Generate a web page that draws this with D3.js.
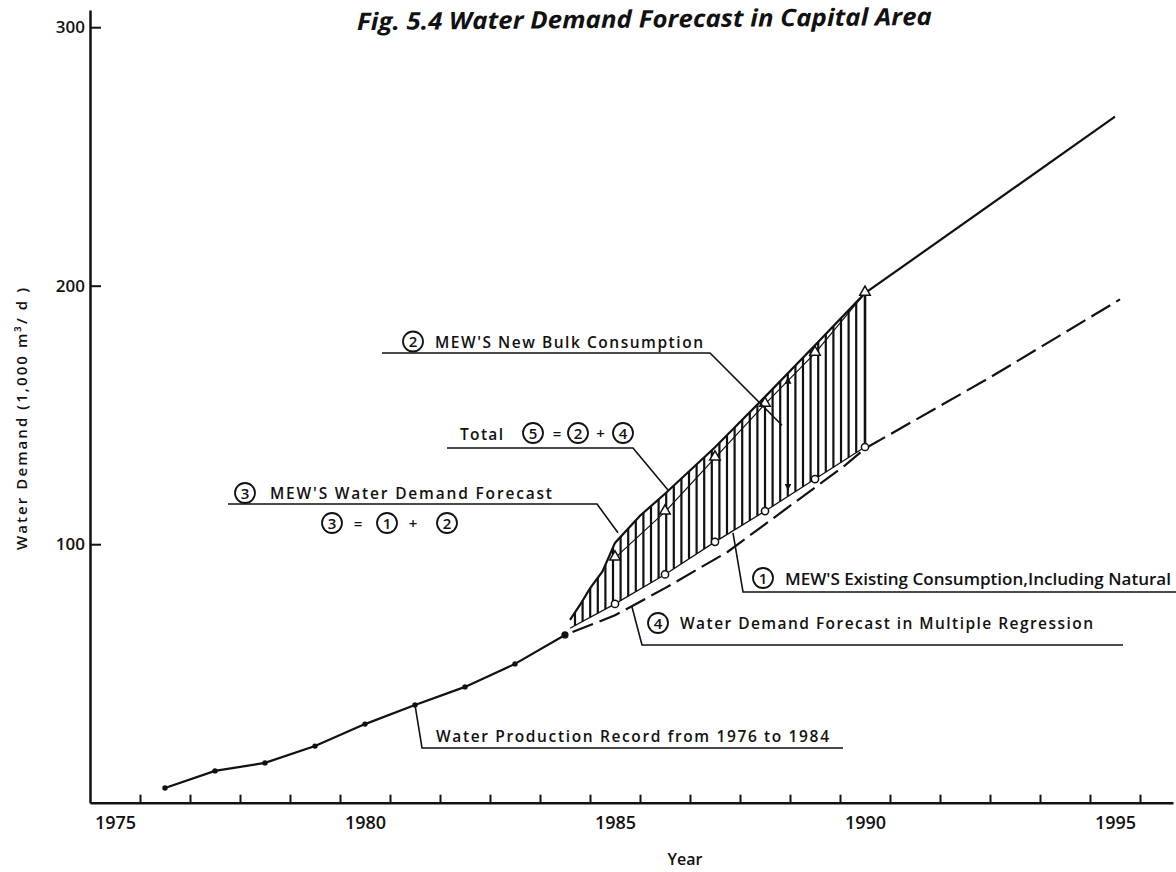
<!DOCTYPE html>
<html><head><meta charset="utf-8">
<script src="https://cdn.jsdelivr.net/npm/d3@7"></script>
<style>
body{margin:0;background:#fff}
svg{display:block}
text{font-family:"Open Sans","DejaVu Sans",sans-serif;fill:#111}
</style>
</head><body>
<svg id="chart" width="1176" height="872"></svg>
<script>
// ---------------- data ----------------
const productionYears  = [1976,1977,1978,1979,1980,1981,1982,1983,1984];
const productionValues = [5.7,12.3,15.4,21.9,30.4,37.8,44.8,53.7,64.9];

const forecastYears    = [1985,1986,1987,1988,1989,1990];
const existingValues   = [76.9,88.3,100.9,112.8,125.2,137.6];   // (1) circles
const mewForecastValues= [94.7,112.5,133.4,154.2,173.9,197.1];  // (3) triangles

const existingLineYears  = [1984.1,1985,1986,1987,1988,1989,1990];
const existingLineValues = [67.5,76.9,88.3,100.9,112.8,125.2,137.6];

const totalYears  = [1984.1,1984.3,1984.5,1984.75,1985,1985.5,1986,1987,1988,1989,1990,1995];
const totalValues = [70.7,76.5,82.9,89.5,100.5,111,119.5,137.5,157,177,197.1,265.4];

const regressionYears  = [1984.15,1985,1986,1987.25,1989.6,1990,1992.5,1995.1];
const regressionValues = [66,72.5,83,97,130.5,137,164.5,194.7];

const bulkArrowYear = 1988.46;
const bulkArrowValues = [121,164.5];

const yTickValues = [100,200,300];
const xLabelYears = [1975,1980,1985,1990,1995];
const xTickYears  = [1975.5,1976.5,1977.5,1978.5,1979.5,1980.5,1981.5,1982.5,1983.5,1984.5,
                     1985.5,1986.5,1987.5,1988.5,1989.5,1990.5,1991.5,1992.5,1993.5,1994.5,1995.5];

// ---------------- scales ----------------
const svg = d3.select("#chart");
const x = d3.scaleLinear().domain([1976,1990]).range([165,865]);
const y = d3.scaleLinear().domain([0,300]).range([802.7,27.2]);
const X0 = 90, X1 = 1173, Y0 = 802.7, YTOP = 10;
const xAxisScale = x.copy().domain([x.invert(X0), x.invert(X1)]).range([X0,X1]);
const yAxisScale = y.copy().domain([0, y.invert(YTOP)]).range([Y0,YTOP]);

const ink = "#111";

// ---------------- axes ----------------
const gx = svg.append("g").attr("transform",`translate(0,${Y0})`)
  .call(d3.axisBottom(xAxisScale).tickValues(xTickYears).tickSizeInner(-8).tickSizeOuter(0).tickFormat(""));
gx.select(".domain").attr("stroke",ink).attr("stroke-width",2.5);
gx.selectAll(".tick line").attr("stroke",ink).attr("stroke-width",2);

const gxl = svg.append("g").attr("transform",`translate(0,${Y0})`)
  .call(d3.axisBottom(x).tickValues(xLabelYears).tickSize(0).tickPadding(14).tickFormat(d3.format("d")));
gxl.select(".domain").remove();
gxl.selectAll("text").attr("font-size",18).attr("font-weight",600).attr("fill",ink)
  .attr("font-family",'"Open Sans","DejaVu Sans",sans-serif');

const gy = svg.append("g").attr("transform",`translate(${X0},0)`)
  .call(d3.axisLeft(yAxisScale).tickValues(yTickValues).tickSizeInner(-11).tickSizeOuter(0).tickPadding(5));
gy.select(".domain").attr("stroke",ink).attr("stroke-width",2.5);
gy.selectAll(".tick line").attr("stroke",ink).attr("stroke-width",2);
gy.selectAll("text").attr("font-size",17).attr("font-weight",600).attr("fill",ink)
  .attr("font-family",'"Open Sans","DejaVu Sans",sans-serif');

// axis titles
svg.append("text").attr("x",685).attr("y",865).attr("text-anchor","middle")
  .attr("font-size",16).attr("font-weight",600).text("Year");
svg.append("text").attr("transform","translate(27,419) rotate(-90)").attr("text-anchor","middle")
  .attr("font-size",15).attr("font-weight",600)
  .attr("textLength",262).attr("lengthAdjust","spacing")
  .text("Water  Demand   (1,000 m³/ d )");

// title
svg.append("text").attr("transform","translate(357,30) rotate(-0.5)")
  .attr("font-size",24).attr("font-weight",700).attr("font-style","italic")
  .attr("textLength",575).attr("lengthAdjust","spacingAndGlyphs")
  .text("Fig. 5.4  Water  Demand  Forecast  in  Capital  Area");

// ---------------- hatch (2) between (1) and (5) ----------------
const upper = d3.scaleLinear().domain(totalYears).range(totalValues);
const lower = d3.scaleLinear().domain(existingLineYears).range(existingLineValues);
const hatchYears = d3.range(1984.2, 1989.9, 0.152);
svg.append("g").selectAll("line").data(hatchYears).join("line")
  .attr("x1",d=>x(d)).attr("x2",d=>x(d))
  .attr("y1",d=>y(lower(d))).attr("y2",d=>y(upper(d)))
  .attr("stroke",ink).attr("stroke-width",2.2);
svg.append("line").attr("x1",x(1990)).attr("x2",x(1990))
  .attr("y1",y(lower(1990))).attr("y2",y(upper(1990)))
  .attr("stroke",ink).attr("stroke-width",2.6);

// ---------------- lines ----------------
const line = d3.line().x(d=>x(d[0])).y(d=>y(d[1]));
const zip = (a,b)=>a.map((v,i)=>[v,b[i]]);

svg.append("path").attr("d",line(zip(productionYears,productionValues)))
  .attr("fill","none").attr("stroke",ink).attr("stroke-width",2.2);
svg.append("path").attr("d",line(zip(totalYears,totalValues)))
  .attr("fill","none").attr("stroke",ink).attr("stroke-width",2.2);
svg.append("path").attr("d",line(zip(existingLineYears,existingLineValues)))
  .attr("fill","none").attr("stroke",ink).attr("stroke-width",1.3);
svg.append("path").attr("d",line(zip(forecastYears,mewForecastValues)))
  .attr("fill","none").attr("stroke",ink).attr("stroke-width",1.2);
svg.append("path").attr("d",line(zip(regressionYears,regressionValues)))
  .attr("fill","none").attr("stroke",ink).attr("stroke-width",2.2)
  .attr("stroke-dasharray","22 7");

// markers
svg.append("g").selectAll("circle").data(zip(productionYears,productionValues)).join("circle")
  .attr("cx",d=>x(d[0])).attr("cy",d=>y(d[1]))
  .attr("r",(d,i)=> i===productionYears.length-1 ? 3.6 : 2.7).attr("fill",ink);
svg.append("g").selectAll("circle").data(zip(forecastYears,existingValues)).join("circle")
  .attr("cx",d=>x(d[0])).attr("cy",d=>y(d[1])).attr("r",3.6)
  .attr("fill","#fff").attr("stroke",ink).attr("stroke-width",1.5);
const tri = d3.symbol(d3.symbolTriangle, 48);
svg.append("g").selectAll("path").data(zip(forecastYears,mewForecastValues)).join("path")
  .attr("d",tri).attr("transform",d=>`translate(${x(d[0])},${y(d[1])-1})`)
  .attr("fill","#fff").attr("stroke",ink).attr("stroke-width",1.5);

// double-headed arrow for (2)
const defs = svg.append("defs");
defs.append("marker").attr("id","ah").attr("viewBox","0 0 10 10").attr("refX",9).attr("refY",5)
  .attr("markerWidth",7).attr("markerHeight",9).attr("markerUnits","userSpaceOnUse")
  .attr("orient","auto-start-reverse")
  .append("path").attr("d","M0,0 L10,5 L0,10 Z").attr("fill",ink);
svg.append("line").attr("x1",x(bulkArrowYear)).attr("x2",x(bulkArrowYear))
  .attr("y1",y(bulkArrowValues[0])).attr("y2",y(bulkArrowValues[1]))
  .attr("stroke",ink).attr("stroke-width",2)
  .attr("marker-start","url(#ah)").attr("marker-end","url(#ah)");

// ---------------- annotations ----------------
function circled(cx, cy, label){
  svg.append("circle").attr("cx",cx).attr("cy",cy).attr("r",10)
    .attr("fill","#fff").attr("stroke",ink).attr("stroke-width",1.8);
  svg.append("text").attr("x",cx).attr("y",cy+5.5).attr("text-anchor","middle")
    .attr("font-size",15).attr("font-weight",600).text(label);
}
function label(tx, ty, str, len, adj){
  svg.append("text").attr("x",tx).attr("y",ty).attr("font-size",15.5).attr("font-weight",600)
    .attr("textLength",len).attr("lengthAdjust",adj||"spacing").text(str);
}
function leader(pts){
  svg.append("path").attr("d",d3.line()(pts)).attr("fill","none")
    .attr("stroke",ink).attr("stroke-width",1.6);
}

// (2) MEW'S New Bulk Consumption
circled(413,341.5,"2");
label(435,348,"MEW'S New Bulk Consumption",268);
leader([[382,353],[710,353],[x(1988.34),y(146)]]);

// Total (5) = (2) + (4)
label(460,440,"Total",43);
circled(533,433,"5");
svg.append("text").attr("x",557).attr("y",439).attr("text-anchor","middle").attr("font-size",15).attr("font-weight",600).text("=");
circled(578,433,"2");
svg.append("text").attr("x",600.5).attr("y",439).attr("text-anchor","middle").attr("font-size",15).attr("font-weight",600).text("+");
circled(623,433,"4");
leader([[447,448],[633,448],[x(1986.06),y(121)]]);

// (3) MEW'S Water Demand Forecast ; (3) = (1) + (2)
circled(245,493,"3");
label(270,498.5,"MEW'S Water Demand Forecast",282);
leader([[228,504],[597,504],[x(1985.06),y(104.4)]]);
circled(332,523,"3");
svg.append("text").attr("x",358).attr("y",529).attr("text-anchor","middle").attr("font-size",15).attr("font-weight",600).text("=");
circled(387,523,"1");
svg.append("text").attr("x",413).attr("y",529).attr("text-anchor","middle").attr("font-size",15).attr("font-weight",600).text("+");
circled(447,523,"2");

// (1) MEW'S Existing Consumption, Including Natural
circled(763,578,"1");
label(785,585,"MEW'S Existing Consumption,Including Natural",386,"spacingAndGlyphs");
leader([[1176,592],[743,592],[x(1987.36),y(104.4)]]);

// (4) Water Demand Forecast in Multiple Regression
circled(658,623,"4");
label(680,628.5,"Water Demand Forecast in Multiple Regression",413);
leader([[1123,645],[642,645],[x(1985.34),y(75.7)]]);

// Production record
label(436,742,"Water Production Record from 1976 to 1984",393);
leader([[843,748],[422,748],[x(1981),y(37.8)]]);
</script>
</body></html>
